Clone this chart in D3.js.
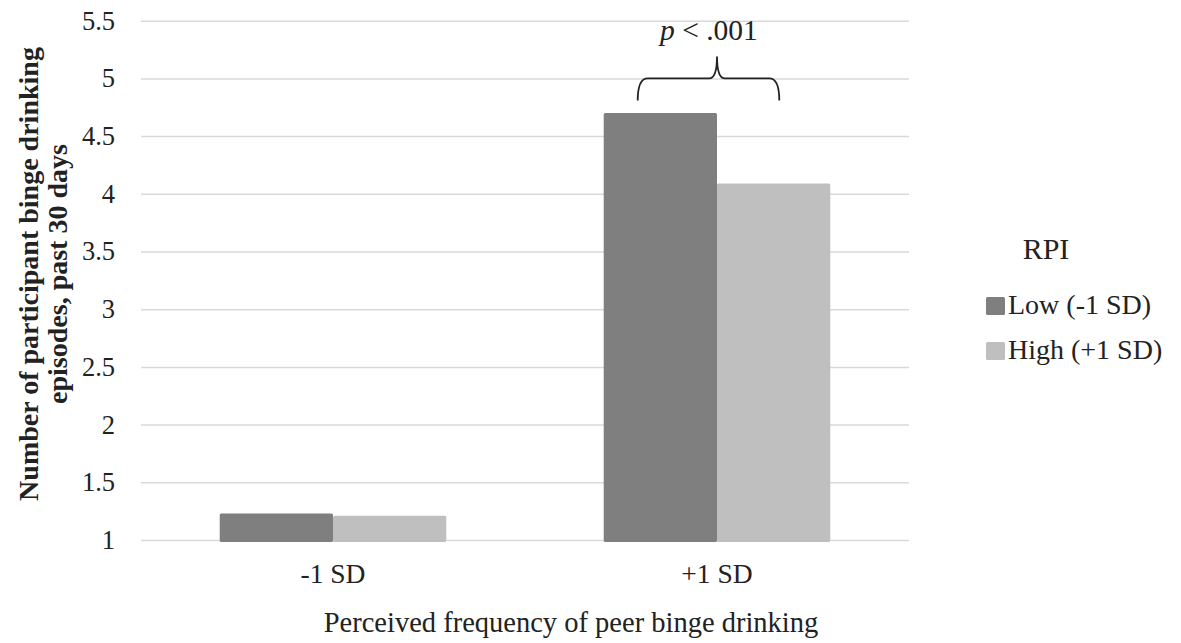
<!DOCTYPE html>
<html>
<head>
<meta charset="utf-8">
<script src="https://cdn.jsdelivr.net/npm/d3@7"></script>
<style>
	body { margin: 0; background: #fff; }
	text { font-family: "Liberation Serif", "Times New Roman", serif; fill: #222; }
</style>
</head>
<body>
<svg id="chart" width="1181" height="643"></svg>
<script>
// data
const categories = ["-1 SD", "+1 SD"]
const seriesNames = ["Low (-1 SD)", "High (+1 SD)"]
const lowValues = [1.23, 4.7]
const highValues = [1.21, 4.09]
const yTicks = [1, 1.5, 2, 2.5, 3, 3.5, 4, 4.5, 5, 5.5]

const colours = { low: "#7f7f7f", high: "#bfbfbf", grid: "#d9d9d9", ink: "#222" }

const svg = d3.select("#chart")
const plot = { left: 141, right: 909, top: 20.7, bottom: 540 }

const y = d3.scaleLinear().domain([1, 5.5]).range([plot.bottom, plot.top])
const x = d3
	.scaleBand()
	.domain(categories)
	.range([plot.left, plot.right])
	.paddingInner(0.41)
	.paddingOuter(0.205)
const xs = d3.scaleBand().domain(seriesNames).range([0, x.bandwidth()])

/**
 * gridlines + tick labels
 */
const yAxis = svg
	.append("g")
	.attr("transform", `translate(${plot.left},0)`)
	.call(
		d3.axisLeft(y)
			.tickValues(yTicks)
			.tickSize(-(plot.right - plot.left))
			.tickPadding(26)
			.tickFormat(d3.format("~g"))
	)
yAxis.select(".domain").remove()
yAxis.selectAll("line").attr("stroke", colours.grid).attr("stroke-width", 1.5)
yAxis.selectAll("text").style("font-size", "26.5px").attr("font-family", null).attr("fill", colours.ink)

/**
 * bars
 */
const rows = categories.map((c, i) => ({ cat: c, vals: [lowValues[i], highValues[i]] }))
const group = svg
	.selectAll(".cat")
	.data(rows)
	.enter()
	.append("g")
	.attr("class", "cat")
	.attr("transform", d => `translate(${x(d.cat)},0)`)

group
	.selectAll("rect")
	.data(d => d.vals.map((v, j) => ({ name: seriesNames[j], v })))
	.enter()
	.append("rect")
	.attr("x", d => xs(d.name))
	.attr("y", d => y(d.v))
	.attr("width", xs.bandwidth())
	.attr("height", d => y(1) - y(d.v) + 2)
	.attr("rx", 1.5)
	.attr("fill", (d, j) => (j === 0 ? colours.low : colours.high))

/**
 * x labels + titles
 */
svg
	.selectAll(".xlab")
	.data(categories)
	.enter()
	.append("text")
	.attr("class", "xlab")
	.attr("x", d => x(d) + x.bandwidth() / 2)
	.attr("y", 583)
	.attr("text-anchor", "middle")
	.style("font-size", "27.5px")
	.text(d => d)

svg
	.append("text")
	.attr("x", 571)
	.attr("y", 632)
	.attr("text-anchor", "middle")
	.style("font-size", "28.5px")
	.text("Perceived frequency of peer binge drinking")

const yTitle = svg
	.append("text")
	.attr("transform", "translate(0,274) rotate(-90)")
	.attr("text-anchor", "middle")
	.style("font-size", "28px")
	.style("font-weight", "bold")
yTitle.append("tspan").attr("x", 0).attr("y", 38).text("Number of participant binge drinking")
yTitle.append("tspan").attr("x", 0).attr("y", 67).text("episodes, past 30 days")

/**
 * significance bracket over the +1 SD pair
 */
const bx0 = x("+1 SD") + xs.bandwidth() * 0.3
const bx1 = x("+1 SD") + xs.bandwidth() * 1.55
const bmid = x("+1 SD") + xs.bandwidth()
const bTop = y(5)
svg
	.append("path")
	.attr(
		"d",
		`M${bx0},${bTop + 22} Q${bx0},${bTop} ${bx0 + 10},${bTop} L${bmid - 8},${bTop} Q${bmid},${bTop} ${bmid},${bTop - 22} Q${bmid},${bTop} ${bmid + 8},${bTop} L${bx1 - 10},${bTop} Q${bx1},${bTop} ${bx1},${bTop + 22}`
	)
	.attr("fill", "none")
	.attr("stroke", colours.ink)
	.attr("stroke-width", 1.8)

const pText = svg
	.append("text")
	.attr("x", bmid - 8)
	.attr("y", 40)
	.attr("text-anchor", "middle")
	.style("font-size", "29.5px")
pText.append("tspan").style("font-style", "italic").text("p")
pText.append("tspan").text(" < .001")

/**
 * legend
 */
svg
	.append("text")
	.attr("x", 1046)
	.attr("y", 259)
	.attr("text-anchor", "middle")
	.style("font-size", "30px")
	.text("RPI")

const legend = svg
	.selectAll(".legend")
	.data(seriesNames)
	.enter()
	.append("g")
	.attr("class", "legend")
	.attr("transform", (d, i) => `translate(986,${297 + i * 45})`)
legend
	.append("rect")
	.attr("width", 19)
	.attr("height", 18)
	.attr("rx", 1.5)
	.attr("fill", (d, i) => (i === 0 ? colours.low : colours.high))
legend
	.append("text")
	.attr("x", 22)
	.attr("y", 17)
	.style("font-size", "28px")
	.text(d => d)
</script>
</body>
</html>
